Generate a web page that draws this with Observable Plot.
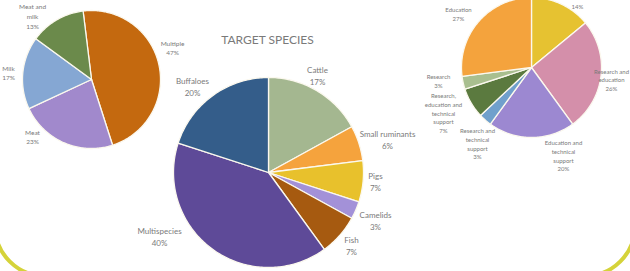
<!DOCTYPE html>
<html>
<head>
<meta charset="utf-8">
<script src="https://cdn.jsdelivr.net/npm/d3@7"></script>
<script src="https://cdn.jsdelivr.net/npm/@observablehq/plot@0.6"></script>
<style>
  body { margin: 0; background: #fff; }
  #wrap { position: relative; width: 630px; height: 271px; overflow: hidden; background: #fff; }
  #frame { position: absolute; left: -7px; top: -60px; width: 644px; height: 338px; box-sizing: border-box;
           border: 4px solid #d5d33a; border-radius: 52px; pointer-events: none; }
  #chart { position: absolute; left: 0; top: 0; }
</style>
</head>
<body>
<div id="wrap"><div id="chart"></div><div id="frame"></div></div>
<script>
// ---- Data ----
const leftCategories = ["Multiple", "Meat", "Milk", "Meat and\nmilk"];
const leftValues = [47, 23, 17, 13];
const leftColors = ["#c4690f", "#a189cc", "#85a7d3", "#6b8a4b"];

const centerTitle = "TARGET SPECIES";
const centerCategories = ["Cattle", "Small ruminants", "Pigs", "Camelids", "Fish", "Multispecies", "Buffaloes"];
const centerValues = [17, 6, 7, 3, 7, 40, 20];
const centerColors = ["#a4b790", "#f5a33d", "#e8c12c", "#a391d8", "#a65a10", "#5e4a98", "#345d8a"];

// first category's name is outside the picture; only its share is visible
const rightCategories = ["", "Research and\neducation", "Education and\ntechnical\nsupport",
  "Research and\ntechnical\nsupport", "Research,\neducation and\ntechnical\nsupport", "Research", "Education"];
const rightValues = [14, 26, 20, 3, 7, 3, 27];
const rightColors = ["#e6c231", "#d48faa", "#9c88d1", "#70a0cc", "#5b7a3f", "#a9bf8f", "#f4a33d"];

// ---- Layout (positions, not data) ----
const pies = {
  left:   {cx: 91,  cy: 79,  r: 69, start: -7, font: 6.5, lh: 1.5,
           labels: [[172, 47], [32, 136], [8, 72], [32, 15.5]]},
  center: {cx: 268, cy: 172, r: 95, start: 0, font: 8, lh: 1.5,
           labels: [[317, 74.5], [387, 138.5], [375, 181], [375, 219.5], [351, 245], [159, 236], [192, 86]]},
  right:  {cx: 531, cy: 67,  r: 70, start: 0, font: 6, lh: 1.45,
           labels: [[577, 5.5], [611, 79], [563, 155], [477, 143], [443, 112.5], [438, 80.5], [458, 13.5]]}
};

function slicePoints(name, cats, vals, colors, g) {
  const total = d3.sum(vals);
  const pts = [];
  let a = g.start * Math.PI / 180;
  cats.forEach((c, i) => {
    const a0 = a, a1 = a + vals[i] / total * 2 * Math.PI;
    a = a1;
    const key = name + ":" + i;
    pts.push({key, x: g.cx, y: g.cy, color: colors[i]});
    const n = Math.max(2, Math.ceil((a1 - a0) / (Math.PI / 180)));
    for (let k = 0; k <= n; k++) {
      const t = a0 + (a1 - a0) * k / n;
      pts.push({key, x: g.cx + g.r * Math.sin(t), y: g.cy - g.r * Math.cos(t), color: colors[i]});
    }
  });
  return pts;
}
function labelRows(cats, vals, g) {
  return cats.map((c, i) => ({x: g.labels[i][0], y: g.labels[i][1], text: (c ? c + "\n" : "") + vals[i] + "%"}));
}

const leftSlices = slicePoints("L", leftCategories, leftValues, leftColors, pies.left);
const centerSlices = slicePoints("C", centerCategories, centerValues, centerColors, pies.center);
const rightSlices = slicePoints("R", rightCategories, rightValues, rightColors, pies.right);

const sliceOpts = {x: "x", y: "y", z: "key", fill: "color", stroke: "#fbf8ee", strokeWidth: 1.3,
                   strokeLinejoin: "round", curve: "linear-closed"};
const textOpts = (g) => ({x: "x", y: "y", text: "text", fontSize: g.font, lineHeight: g.lh,
                          fill: "#7a7a7a", fontFamily: "Lato, 'Open Sans', sans-serif"});

const plot = Plot.plot({
  width: 630, height: 271,
  marginTop: 0, marginRight: 0, marginBottom: 0, marginLeft: 0,
  x: {domain: [0, 630], range: [0, 630], axis: null},
  y: {domain: [0, 271], range: [0, 271], axis: null},
  color: {type: "identity"},
  style: {background: "transparent", overflow: "visible"},
  marks: [
    Plot.line(leftSlices, sliceOpts),
    Plot.line(centerSlices, sliceOpts),
    Plot.line(rightSlices, sliceOpts),
    Plot.text(labelRows(leftCategories, leftValues, pies.left), textOpts(pies.left)),
    Plot.text(labelRows(centerCategories, centerValues, pies.center), textOpts(pies.center)),
    Plot.text(labelRows(rightCategories, rightValues, pies.right), textOpts(pies.right)),
    Plot.text([{x: 267, y: 40, text: centerTitle}], {x: "x", y: "y", text: "text", fontSize: 12,
      fill: "#7a7a7a", fontFamily: "Lato, 'Open Sans', sans-serif"})
  ]
});
document.getElementById("chart").appendChild(plot);
</script>
</body>
</html>
